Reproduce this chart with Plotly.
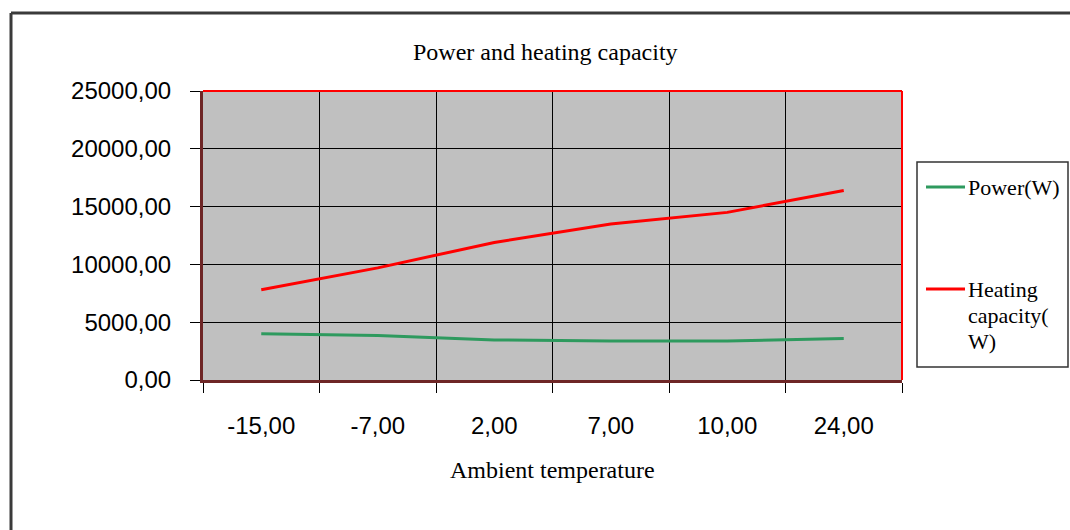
import plotly.graph_objects as go

# ---- data ----
categories = ["-15,00", "-7,00", "2,00", "7,00", "10,00", "24,00"]
power_w = [4000, 3850, 3470, 3380, 3380, 3580]
heating_w = [7800, 9700, 11900, 13500, 14500, 16400]
series_names = ["Power(W)", "Heating capacity(W)"]
legend_labels = ["Power(W)", "Heating<br>capacity(<br>W)"]
y_ticks = [0, 5000, 10000, 15000, 20000, 25000]

# ---- layout geometry (pixels) ----
W, H = 1070, 530
L, R, T, B = 203, 902, 91, 380


def px(x):
    return (x - L) / (R - L)


def py(y):
    return (B - y) / (B - T)


GREEN = "#2e9a5e"
RED = "#ff0000"
SERIF = "Liberation Serif, Times New Roman, serif"
SANS = "Liberation Sans, Arial, sans-serif"

fig = go.Figure()
fig.add_trace(go.Scatter(x=categories, y=power_w, name=series_names[0], mode="lines",
                         line=dict(color=GREEN, width=3), showlegend=False))
fig.add_trace(go.Scatter(x=categories, y=heating_w, name=series_names[1], mode="lines",
                         line=dict(color=RED, width=3), showlegend=False))

fig.update_layout(
    width=W, height=H,
    margin=dict(l=L, r=W - R, t=T, b=H - B),
    paper_bgcolor="white",
    plot_bgcolor="#c0c0c0",
    separators=",.",
    showlegend=False,
)

fig.update_xaxes(
    type="category", categoryorder="array", categoryarray=categories,
    range=[-0.5, len(categories) - 0.5],
    tickson="boundaries", ticks="outside", ticklen=10, tickcolor="black", tickwidth=1,
    showgrid=True, gridcolor="black", gridwidth=1,
    showline=True, linecolor="#6e2626", linewidth=3,
    tickfont=dict(family=SANS, size=24, color="black"),
    ticklabelstandoff=22,
)
fig.update_yaxes(
    range=[0, 25000], tickvals=y_ticks, tickformat=".2f",
    ticks="outside", ticklen=10, tickcolor="black", tickwidth=1,
    showgrid=True, gridcolor="black", gridwidth=1, zeroline=False,
    showline=True, linecolor="#6e2626", linewidth=3,
    tickfont=dict(family=SANS, size=24, color="black"),
    ticklabelstandoff=14,
)

shapes = []
# red plot-area border (top and right)
shapes.append(dict(type="line", xref="paper", yref="paper", x0=0, x1=1, y0=1, y1=1,
                   line=dict(color=RED, width=2), layer="above"))
shapes.append(dict(type="line", xref="paper", yref="paper", x0=1, x1=1, y0=0, y1=1,
                   line=dict(color=RED, width=2), layer="above"))
# outer chart border (top and left, runs off the page)
shapes.append(dict(type="line", xref="paper", yref="paper", x0=px(11), x1=px(1080), y0=py(13), y1=py(13),
                   line=dict(color="#3a3a3a", width=3)))
shapes.append(dict(type="line", xref="paper", yref="paper", x0=px(11), x1=px(11), y0=py(13), y1=py(540),
                   line=dict(color="#3a3a3a", width=3)))
# legend box
shapes.append(dict(type="rect", xref="paper", yref="paper", x0=px(917), x1=px(1068), y0=py(162), y1=py(367),
                   line=dict(color="#333333", width=1.5), fillcolor="white"))
# legend keys
shapes.append(dict(type="line", xref="paper", yref="paper", x0=px(926), x1=px(965), y0=py(187), y1=py(187),
                   line=dict(color=GREEN, width=3)))
shapes.append(dict(type="line", xref="paper", yref="paper", x0=px(926), x1=px(965), y0=py(289), y1=py(289),
                   line=dict(color=RED, width=3)))

annotations = [
    dict(text="Power and heating capacity", xref="paper", yref="paper", x=px(545), y=py(52),
         xanchor="center", yanchor="middle", showarrow=False,
         font=dict(family=SERIF, size=24, color="black")),
    dict(text="Ambient temperature", xref="paper", yref="paper", x=px(552), y=py(470),
         xanchor="center", yanchor="middle", showarrow=False,
         font=dict(family=SERIF, size=24, color="black")),
    dict(text=legend_labels[0], xref="paper", yref="paper", x=px(966), y=py(187),
         xanchor="left", yanchor="middle", showarrow=False, align="left",
         font=dict(family=SERIF, size=22, color="black")),
]
# multi-line legend label, one line per annotation for tighter line spacing
for i, line_text in enumerate(legend_labels[1].split("<br>")):
    annotations.append(dict(text=line_text, xref="paper", yref="paper", x=px(966), y=py(289 + 26 * i),
                            xanchor="left", yanchor="middle", showarrow=False, align="left",
                            font=dict(family=SERIF, size=22, color="black")))

fig.update_layout(shapes=shapes, annotations=annotations)
fig.write_html("out.html")
